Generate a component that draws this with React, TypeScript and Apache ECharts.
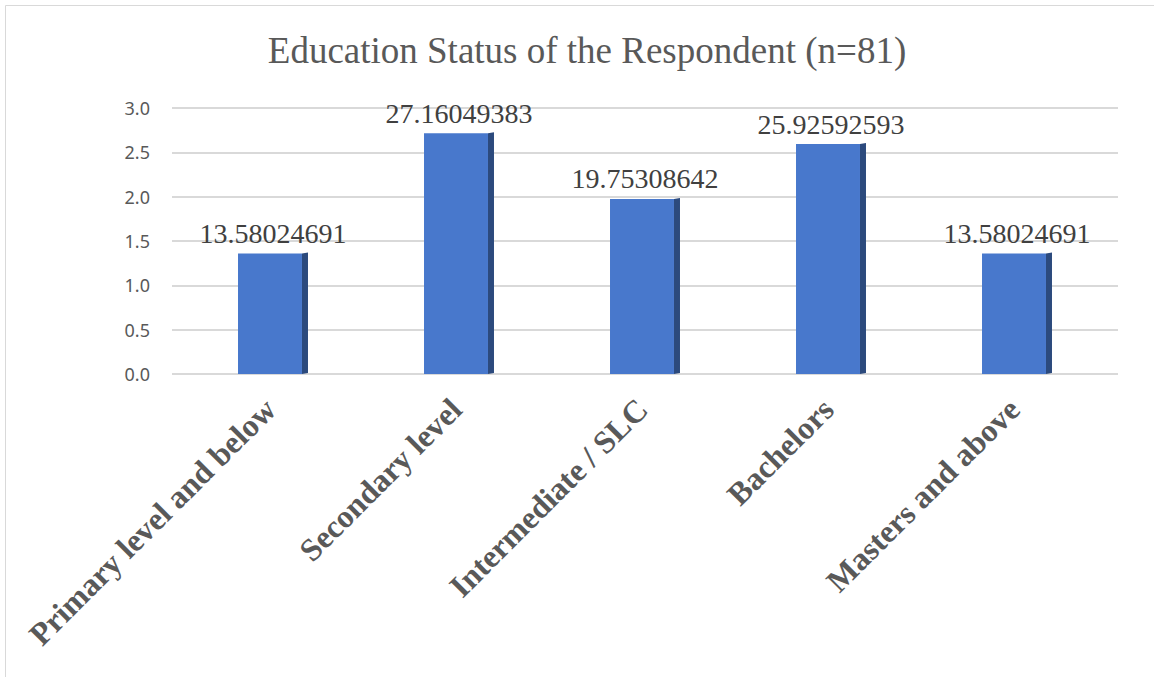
import React, { useEffect, useRef } from "react";
import * as echarts from "echarts";

const categories = [
  "Primary level and below",
  "Secondary level",
  "Intermediate / SLC",
  "Bachelors",
  "Masters and above",
];
// bar heights as drawn on the axis
const barValues = [1.358, 2.716, 1.975, 2.593, 1.358];
// data labels printed above bars
const labelTexts = ["13.58024691", "27.16049383", "19.75308642", "25.92592593", "13.58024691"];
const yTicks = [0, 0.5, 1, 1.5, 2, 2.5, 3];

export default function App() {
  const ref = useRef<HTMLDivElement>(null);
  useEffect(() => {
    document.body.style.margin = "0";
    const chart = echarts.init(ref.current!, null, { renderer: "svg" });
    const option: any = {
      animation: false,
      backgroundColor: "#ffffff",
      title: {
        text: "Education Status of the Respondent (n=81)",
        left: 582,
        textAlign: "center",
        top: 27,
        textStyle: {
          fontFamily: "Liberation Serif",
          fontSize: 37,
          fontWeight: "normal",
          color: "#595959",
        },
      },
      graphic: [
        {
          type: "rect",
          shape: { x: 5.5, y: 5.5, width: 1170, height: 700 },
          style: { fill: "none", stroke: "#d9d9d9", lineWidth: 1 },
          silent: true,
        },
      ],
      grid: [
        { left: 172, right: 36, top: 108, bottom: 303 },
        { left: 177, right: 47, top: 108, bottom: 303 },
      ],
      xAxis: [
        {
          gridIndex: 0,
          type: "category",
          data: categories,
          show: false,
        },
        {
          gridIndex: 1,
          type: "category",
          data: categories,
          axisLine: { show: false },
          axisTick: { show: false },
          axisLabel: {
            rotate: 45,
            margin: 30,
            fontFamily: "Liberation Serif",
            fontSize: 32,
            fontWeight: "bold",
            color: "#595959",
            interval: 0,
          },
        },
      ],
      yAxis: [
        {
          gridIndex: 0,
          type: "value",
          min: 0,
          max: 3,
          interval: 0.5,
          axisLine: { show: false },
          axisTick: { show: false },
          splitLine: { lineStyle: { color: "#d9d9d9", width: 2 } },
          axisLabel: {
            margin: 22,
            fontFamily: "Noto Sans",
            fontSize: 18,
            color: "#595959",
            formatter: (v: number) => (yTicks.includes(v) ? v.toFixed(1) : ""),
          },
        },
        {
          gridIndex: 1,
          type: "value",
          min: 0,
          max: 3,
          interval: 0.5,
          show: false,
        },
      ],
      series: [
        {
          type: "custom",
          xAxisIndex: 1,
          yAxisIndex: 1,
          data: barValues.map((v, i) => [i, v]),
          renderItem: (params: any, api: any) => {
            const idx = api.value(0);
            const v = api.value(1);
            const top = api.coord([idx, v]);
            const base = api.coord([idx, 0]);
            const band = api.size([1, 0])[0];
            const w = band * 0.344;
            const x0 = top[0] - w / 2;
            const x1 = x0 + w;
            const d = 6;
            return {
              type: "group",
              children: [
                {
                  type: "polygon",
                  shape: {
                    points: [
                      [x1, top[1]],
                      [x1 + d, top[1] - 1],
                      [x1 + d, base[1] - 1],
                      [x1, base[1]],
                    ],
                  },
                  style: { fill: "#2c4a7d" },
                },
                {
                  type: "rect",
                  shape: { x: x0, y: top[1], width: w, height: base[1] - top[1] },
                  style: { fill: "#4878cc" },
                },
                {
                  type: "text",
                  x: (x0 + x1 + d) / 2,
                  y: top[1] - 6,
                  style: {
                    text: labelTexts[idx],
                    fontFamily: "Liberation Serif",
                    fontSize: 28,
                    fill: "#404040",
                    align: "center",
                    verticalAlign: "bottom",
                  },
                },
              ],
            };
          },
        },
      ],
    };
    chart.setOption(option);
    return () => chart.dispose();
  }, []);
  return (
    <div
      ref={ref}
      style={{ position: "absolute", left: 0, top: 0, width: 1154, height: 677 }}
    />
  );
}
